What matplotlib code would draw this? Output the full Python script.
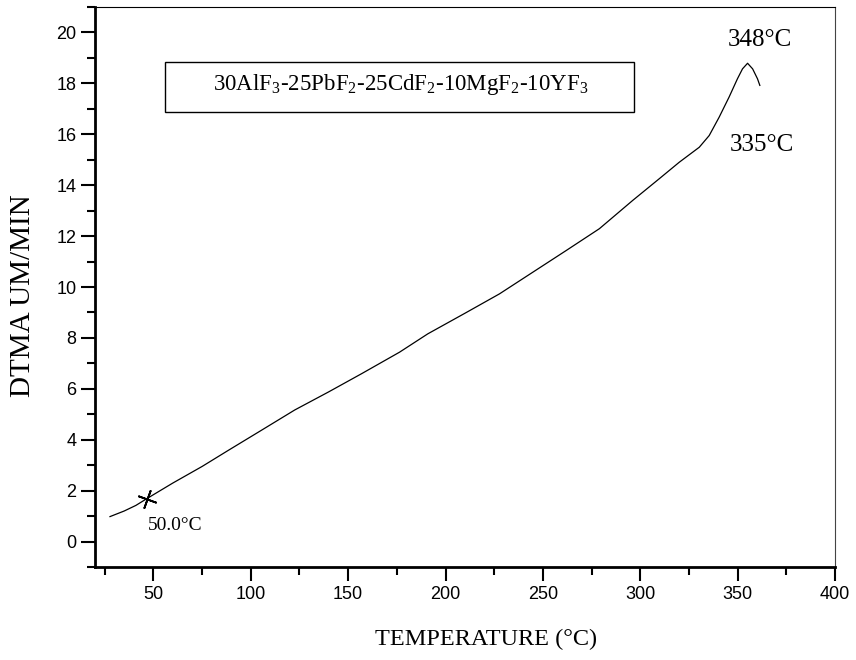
import numpy as np
import matplotlib.pyplot as plt
from matplotlib.patches import Rectangle
from matplotlib.ticker import MultipleLocator

# DTMA curve
temp = [27.7, 35, 41, 46.5, 60, 75, 88.4, 105, 122.6, 140, 156.8, 176.4, 190.9, 210,
        227.7, 245, 261.9, 279, 296.1, 309.7, 320, 330.3, 335.4, 340.5, 345.6,
        349.9, 352.5, 355.1, 357.7, 360.2, 361.4]
dtma = [0.98, 1.2, 1.42, 1.68, 2.3, 2.95, 3.58, 4.35, 5.17, 5.88, 6.59, 7.44, 8.16, 8.97,
        9.73, 10.59, 11.43, 12.29, 13.4, 14.25, 14.9, 15.49, 15.95, 16.67, 17.46,
        18.18, 18.57, 18.79, 18.57, 18.18, 17.92]

mark_t, mark_y = 46.5, 1.68

serif = ['Liberation Serif', 'DejaVu Serif']
sans = ['Liberation Sans', 'DejaVu Sans']

plt.rcParams['mathtext.fontset'] = 'custom'
plt.rcParams['mathtext.rm'] = 'Liberation Serif'

fig = plt.figure(figsize=(8.56, 6.6), dpi=100)
ax = fig.add_axes([95/856, 1 - 567/660, 740/856, 560/660])

ax.plot(temp, dtma, color='black', lw=0.9)
ax.plot([mark_t], [mark_y], marker=(4, 2, -20), ms=14, mew=1.3, color='black')

ax.set_xlim(20, 400)
ax.set_ylim(-1, 21)
ax.xaxis.set_major_locator(MultipleLocator(50))
ax.xaxis.set_minor_locator(MultipleLocator(25))
ax.yaxis.set_major_locator(MultipleLocator(2))
ax.yaxis.set_minor_locator(MultipleLocator(1))
ax.set_xticks([50, 100, 150, 200, 250, 300, 350, 400])

ax.tick_params(which='major', direction='out', length=10, width=1.5,
               labelsize=13, top=False, right=False)
ax.tick_params(which='minor', direction='out', length=6, width=1.5,
               top=False, right=False)
for lab in ax.get_xticklabels() + ax.get_yticklabels():
    lab.set_family(sans)

ax.spines['left'].set_linewidth(2)
ax.spines['bottom'].set_linewidth(2)
ax.spines['top'].set_linewidth(0.8)
ax.spines['right'].set_linewidth(0.8)
ax.spines['right'].set_color('#444444')

ax.set_xlabel('TEMPERATURE (°C)', family=serif, fontsize=17.5)
ax.xaxis.set_label_coords((486 - 95) / 740, -(629 - 567) / 560)
ax.set_ylabel('DTMA UM/MIN', family=serif, fontsize=21)
ax.yaxis.set_label_coords(-(95 - 36) / 740, (567 - 296) / 560)

ax.text(47.2, 0.63, '50.0°C', family=serif, fontsize=14, ha='left', va='center')
ax.text(361.5, 19.7, '348°C', family=serif, fontsize=18, ha='center', va='center')
ax.text(362.5, 15.56, '335°C', family=serif, fontsize=18, ha='center', va='center')

ax.add_patch(Rectangle((55.9, 16.86), 241.0, 1.96, fill=False, ec='black', lw=1))
ax.text(177, 17.72,
        r'30AlF$_\mathregular{3}$-25PbF$_\mathregular{2}$-25CdF$_\mathregular{2}$'
        r'-10MgF$_\mathregular{2}$-10YF$_\mathregular{3}$',
        family=serif, fontsize=16.5, ha='center', va='baseline')

fig.savefig('out.png', dpi=100)
